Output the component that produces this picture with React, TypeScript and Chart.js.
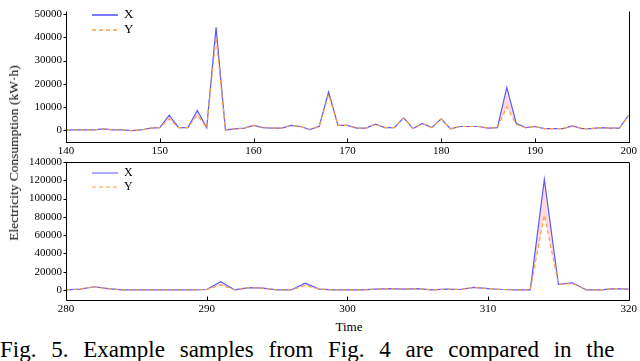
import React, { useEffect, useRef } from "react";
import { Chart, registerables } from "chart.js";
Chart.register(...registerables);

const FONT = "'Liberation Serif', 'Times New Roman', Times, serif";

// Top panel
const topTime = [140,141,142,143,144,145,146,147,148,149,150,151,152,153,154,155,156,157,158,159,160,161,162,163,164,165,166,167,168,169,170,171,172,173,174,175,176,177,178,179,180,181,182,183,184,185,186,187,188,189,190,191,192,193,194,195,196,197,198,199,200];
const topX = [0,0,0,0,500,0,0,-300,0,800,1000,6400,1000,1000,8400,1000,44400,0,500,800,2000,1000,800,800,2000,1500,200,1600,16400,2000,2000,800,800,2500,1000,1000,5200,600,2800,1000,4800,500,1500,1500,1500,800,1000,18400,2900,1000,1500,600,600,600,1800,600,600,1000,800,800,6400];
const topY = [0,0,0,0,500,0,0,-300,0,800,1000,4800,1000,1000,6400,1000,40000,0,500,800,2000,1000,800,800,2000,1500,200,1600,15200,2000,2000,800,800,2500,1000,1000,5200,600,2800,1000,4800,500,1500,1500,1500,800,1000,10000,2400,1000,1500,600,600,600,1800,600,600,1000,800,800,6400];
const topXTicks = [140,150,160,170,180,190,200];
const topYTicks = [0,10000,20000,30000,40000,50000];

// Bottom panel
const botTime = [280,281,282,283,284,285,286,287,288,289,290,291,292,293,294,295,296,297,298,299,300,301,302,303,304,305,306,307,308,309,310,311,312,313,314,315,316,317,318,319,320];
const botX = [0,1000,3500,1500,0,0,0,0,0,0,500,9000,0,2500,2000,0,0,7300,1000,0,0,0,800,1500,800,1500,0,800,500,2800,1500,500,0,0,121000,6200,7800,0,0,1500,1000];
const botY = [0,1000,3500,1500,0,0,0,0,0,0,500,5500,0,2500,2000,0,0,5000,1000,0,0,0,800,1500,800,1500,0,800,500,2800,1500,500,0,0,82000,6200,7000,0,0,1500,1000];
const botXTicks = [280,290,300,310,320];
const botYTicks = [0,20000,40000,60000,80000,100000,120000,140000];

const seriesNames = ["X", "Y"];
const BLUE = "#5a5aff";
const ORANGE = "#ffa040";

const framePlugin = {
  id: "frame",
  afterDatasetsDraw(chart: any, _args: any, opts: any) {
    const { ctx, chartArea: a, scales } = chart;
    ctx.save();
    ctx.strokeStyle = "#000";
    ctx.lineWidth = 1;
    ctx.beginPath();
    const L = Math.round(a.left) + 0.5, R = Math.round(a.right) + 0.5;
    const T = Math.round(a.top) + 0.5, B = Math.round(a.bottom) + 0.5;
    ctx.moveTo(L, T); ctx.lineTo(L, B); ctx.lineTo(R, B); ctx.lineTo(R, T);
    if (opts.topBorder) ctx.lineTo(L, T);
    ctx.stroke();
    ctx.beginPath();
    for (const t of scales.x.ticks) {
      const px = Math.round(scales.x.getPixelForValue(t.value)) + 0.5;
      ctx.moveTo(px, B); ctx.lineTo(px, B - 4);
    }
    for (const t of scales.y.ticks) {
      const py = Math.round(scales.y.getPixelForValue(t.value)) + 0.5;
      ctx.moveTo(L - 3, py); ctx.lineTo(L, py);
    }
    ctx.stroke();
    // legend
    const lg = opts.legend;
    ctx.lineWidth = lg.lw;
    ctx.strokeStyle = BLUE;
    ctx.setLineDash([]);
    ctx.beginPath(); ctx.moveTo(lg.x, lg.y0); ctx.lineTo(lg.x + 26, lg.y0); ctx.stroke();
    ctx.strokeStyle = ORANGE;
    ctx.setLineDash([4, 3]);
    ctx.beginPath(); ctx.moveTo(lg.x, lg.y0 + lg.dy); ctx.lineTo(lg.x + 26, lg.y0 + lg.dy); ctx.stroke();
    ctx.setLineDash([]);
    ctx.fillStyle = "#000";
    ctx.font = `${lg.size}px ${FONT}`;
    ctx.textBaseline = "middle";
    ctx.textAlign = "left";
    ctx.fillText(seriesNames[0], lg.x + 32, lg.y0);
    ctx.fillText(seriesNames[1], lg.x + 32, lg.y0 + lg.dy);
    ctx.restore();
  },
};

function buildConfig(p: any) {
  return {
    type: "line",
    data: {
      datasets: [
        {
          label: seriesNames[0],
          data: p.time.map((t: number, i: number) => ({ x: t, y: p.x[i] })),
          borderColor: BLUE,
          borderWidth: 1.2,
          pointRadius: 0,
          tension: 0,
          fill: "+1",
          backgroundColor: "rgba(255,165,165,0.4)",
          order: 1,
        },
        {
          label: seriesNames[1],
          data: p.time.map((t: number, i: number) => ({ x: t, y: p.y[i] })),
          borderColor: ORANGE,
          borderWidth: 1.2,
          borderDash: [4, 3],
          pointRadius: 0,
          tension: 0,
          fill: false,
          order: 0,
        },
      ],
    },
    options: {
      responsive: false,
      animation: false,
      events: [],
      layout: { padding: { left: 0, right: 9, top: p.padTop, bottom: 0 } },
      plugins: {
        legend: { display: false },
        tooltip: { enabled: false },
        frame: { topBorder: p.topBorder, legend: p.legend },
      },
      scales: {
        x: {
          type: "linear",
          min: p.time[0],
          max: p.time[p.time.length - 1],
          grid: { display: false, drawTicks: false },
          border: { display: false },
          afterBuildTicks: (s: any) => { s.ticks = p.xTicks.map((v: number) => ({ value: v })); },
          afterFit: (s: any) => { s.height = p.xh; },
          ticks: { color: "#000", font: { family: FONT, size: 11 }, padding: 3, maxRotation: 0, callback: (v: any) => String(v) },
        },
        y: {
          type: "linear",
          min: p.min,
          max: p.max,
          grid: { display: false, drawTicks: false },
          border: { display: false },
          afterBuildTicks: (s: any) => { s.ticks = p.yTicks.map((v: number) => ({ value: v })); },
          afterFit: (s: any) => { s.width = 66; },
          ticks: { color: "#000", font: { family: FONT, size: 11 }, padding: 4, callback: (v: any) => String(v) },
        },
      },
    },
    plugins: [framePlugin],
  } as any;
}

function Panel(props: any) {
  const ref = useRef<HTMLCanvasElement>(null);
  useEffect(() => {
    const c = new Chart(ref.current as HTMLCanvasElement, buildConfig(props.p));
    return () => c.destroy();
  }, []);
  return (
    <canvas
      ref={ref}
      width={640}
      height={props.h}
      style={{ position: "absolute", left: 0, top: props.top, width: 640, height: props.h, display: "block" }}
    />
  );
}

export default function App() {
  useEffect(() => {
    document.body.style.margin = "0";
  }, []);
  const topP = {
    time: topTime, x: topX, y: topY, xTicks: topXTicks, yTicks: topYTicks,
    min: -5200, max: 51600, padTop: 0, xh: 16, topBorder: false,
    legend: { x: 92, y0: 15, dy: 15, lw: 1.6, size: 13 },
  };
  const botP = {
    time: botTime, x: botX, y: botY, xTicks: botXTicks, yTicks: botYTicks,
    min: -11000, max: 140000, padTop: 12, xh: 16, topBorder: true,
    legend: { x: 92, y0: 173 - 150, dy: 14, lw: 1, size: 12 },
  };
  return (
    <div style={{ position: "relative", width: 640, height: 361, overflow: "hidden", background: "#fff", fontFamily: FONT }}>
      <Panel p={topP} top={0} h={158} />
      <Panel p={botP} top={150} h={166} />
      <div
        style={{
          position: "absolute", left: 14, top: 153, transform: "translate(-50%,-50%) rotate(-90deg)",
          whiteSpace: "nowrap", fontSize: 13.5, fontWeight: 400, color: "#000",
        }}
      >
        Electricity Consumption (kW·h)
      </div>
      <div
        style={{ position: "absolute", left: 349, top: 327, transform: "translate(-50%,-50%)", fontSize: 13, color: "#000" }}
      >
        Time
      </div>
      <div
        style={{
          position: "absolute", left: 0, top: 337, width: 640, fontSize: 23, color: "#000",
          whiteSpace: "nowrap", wordSpacing: 9,
        } as any}
      >
        Fig. 5. Example samples from Fig. 4 are compared in the
      </div>
    </div>
  );
}
